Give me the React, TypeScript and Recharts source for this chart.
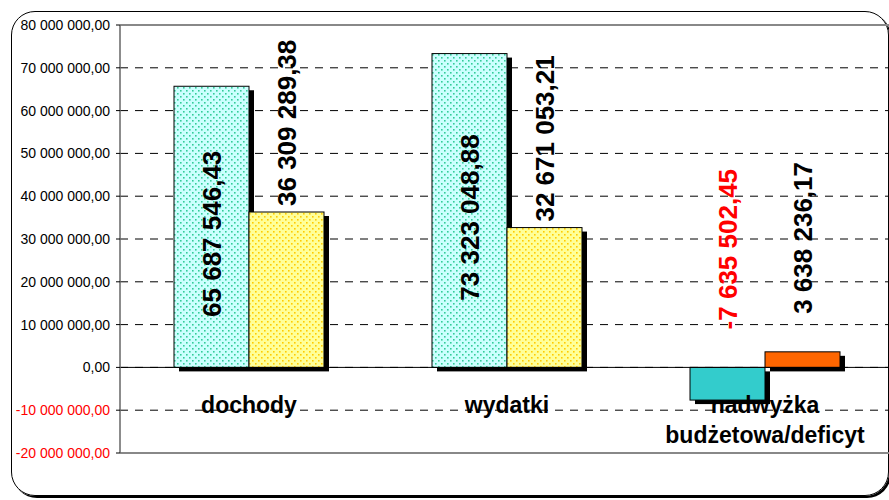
import React from 'react'
import {
  BarChart, Bar, XAxis, YAxis, CartesianGrid, ReferenceLine, Cell, LabelList,
} from 'recharts'

const CATEGORIES = ['dochody', 'wydatki', 'nadwyżka budżetowa/deficyt']
const SERIES_A = [65687546.43, 73323048.88, -7635502.45]
const SERIES_B = [36309289.38, 32671053.21, 3638236.17]
const Y_TICKS = [-20000000, -10000000, 0, 10000000, 20000000, 30000000, 40000000, 50000000, 60000000, 70000000, 80000000]

const FILLS_A = ['url(#dotCyan)', 'url(#dotCyan)', '#33CCCC']
const FILLS_B = ['url(#dotYellow)', 'url(#dotYellow)', '#FF6600']

const FONT = 'Arial, "Liberation Sans", sans-serif'
const Y_MIN = -20000000
const Y_MAX = 80000000
const PLOT_TOP = 25
const PLOT_BOTTOM = 453
const ZERO_Y = PLOT_TOP + (Y_MAX / (Y_MAX - Y_MIN)) * (PLOT_BOTTOM - PLOT_TOP)

const data = CATEGORIES.map((name, i) => ({ name, a: SERIES_A[i], b: SERIES_B[i] }))

function fmt(v: number) {
  const [i, d] = Math.abs(v).toFixed(2).split('.')
  const g = i.replace(/\B(?=(\d{3})+(?!\d))/g, ' ')
  return `${v < 0 ? '-' : ''}${g},${d}`
}

const YTick = ({ x, y, payload }: any) => (
  <text x={x} y={y} dy="0.36em" textAnchor="end" fontSize={14} fontFamily={FONT}
    fill={payload.value < 0 ? '#FF0000' : '#000'}>
    {fmt(payload.value)}
  </text>
)

const CatTick = ({ x, payload }: any) => {
  const words = String(payload.value).split(' ')
  const lines = words.length > 1 ? [words[0], words.slice(1).join(' ')] : words
  return (
    <text x={x} y={ZERO_Y + 46} textAnchor="middle" fontSize={23} fontWeight="bold" fontFamily={FONT} fill="#000">
      {lines.map((l, i) => (
        <tspan key={i} x={x} dy={i === 0 ? 0 : 30}>{l}</tspan>
      ))}
    </text>
  )
}

const ShadowBar = (props: any) => {
  const { x, y, width, height, fill } = props
  const top = Math.min(y, y + height)
  const h = Math.abs(height)
  return (
    <g>
      <rect x={x + 5} y={top + 4} width={width} height={h} fill="#000" />
      <rect x={x} y={top} width={width} height={h} fill={fill} stroke="#000" strokeWidth={1} />
    </g>
  )
}

// inside = label centred in the bar, otherwise it sits above the bar top
const makeLabel = (inside: boolean) => (props: any) => {
  const { x, y, width, height, value, index } = props
  const top = Math.min(y, y + height)
  const cx = x + width / 2
  const color = value < 0 ? '#FF0000' : '#000'
  const common = {
    fontSize: 26, fontWeight: 'bold' as const, fontFamily: FONT, fill: color, dy: '0.36em',
  }
  if (index === 2) {
    const ey = top - 38
    return <text x={cx} y={ey} textAnchor="start" transform={`rotate(-90, ${cx}, ${ey})`} {...common}>{fmt(value)}</text>
  }
  if (inside) {
    const cy = top + Math.abs(height) / 2 + 7
    return <text x={cx} y={cy} textAnchor="middle" transform={`rotate(-90, ${cx}, ${cy})`} {...common}>{fmt(value)}</text>
  }
  const ey = top - 6
  return <text x={cx} y={ey} textAnchor="start" transform={`rotate(-90, ${cx}, ${ey})`} {...common}>{fmt(value)}</text>
}

export default function App() {
  return (
    <div style={{ position: 'absolute', left: 0, top: 0, width: 889, height: 500, overflow: 'hidden', background: '#fff' }}>
      <div style={{
        position: 'absolute', left: 11, top: 11, width: 876, height: 483,
        border: '1.5px solid #000', borderRadius: 24, boxShadow: '2px 2px 0 #000',
      }} />
      <div style={{ position: 'absolute', left: 0, top: 0 }}>
        <BarChart width={900} height={500} data={data}
          margin={{ top: PLOT_TOP, right: 6, bottom: 500 - PLOT_BOTTOM - 1, left: 0 }}
          barCategoryGap={54} barGap={0}>
          <defs>
            <pattern id="dotCyan" width="6" height="6" patternUnits="userSpaceOnUse">
              <rect width="6" height="6" fill="#CCFFFF" />
              <rect x="0" y="0" width="1.6" height="1.6" fill="#33CC99" />
              <rect x="3" y="3" width="1.6" height="1.6" fill="#33CC99" />
            </pattern>
            <pattern id="dotYellow" width="6" height="6" patternUnits="userSpaceOnUse">
              <rect width="6" height="6" fill="#FFFF99" />
              <rect x="0" y="0" width="1.6" height="1.6" fill="#FFCC00" />
              <rect x="3" y="3" width="1.6" height="1.6" fill="#FFCC00" />
            </pattern>
          </defs>
          <CartesianGrid vertical={false} stroke="#000" strokeDasharray="8 7" />
          <XAxis dataKey="name" axisLine={false} tickLine={false} height={1} interval={0} tick={<CatTick />} />
          <YAxis domain={[Y_MIN, Y_MAX]} ticks={Y_TICKS} width={120} tickSize={4} tickMargin={6}
            axisLine={{ stroke: '#666', strokeWidth: 1.5 }} tickLine={{ stroke: '#000' }}
            interval={0} tick={<YTick />} allowDataOverflow />
          <Bar dataKey="a" shape={<ShadowBar />} isAnimationActive={false}>
            {data.map((_, i) => <Cell key={i} fill={FILLS_A[i]} />)}
            <LabelList dataKey="a" content={makeLabel(true)} />
          </Bar>
          <Bar dataKey="b" shape={<ShadowBar />} isAnimationActive={false}>
            {data.map((_, i) => <Cell key={i} fill={FILLS_B[i]} />)}
            <LabelList dataKey="b" content={makeLabel(false)} />
          </Bar>
          <ReferenceLine y={0} stroke="#000" strokeWidth={1} />
          {/* plot border top/bottom; exact domain edges get discarded, so nudge inside */}
          <ReferenceLine y={Y_MAX - 1} stroke="#888" strokeWidth={2} ifOverflow="visible" />
          <ReferenceLine y={Y_MIN + 1} stroke="#888" strokeWidth={2} ifOverflow="visible" />
        </BarChart>
      </div>
    </div>
  )
}
